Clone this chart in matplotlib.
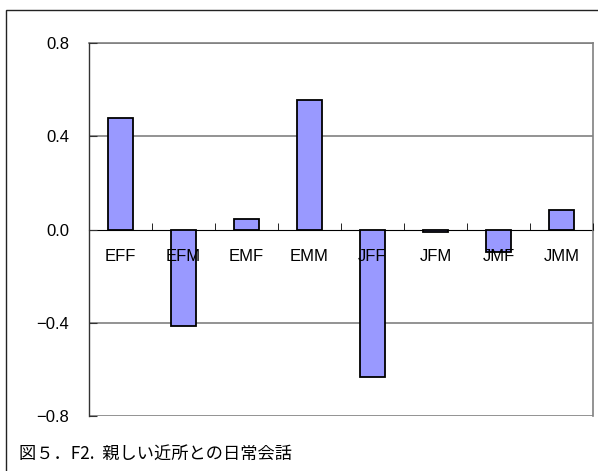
import matplotlib.pyplot as plt
from matplotlib.patches import Rectangle
from matplotlib.ticker import FixedLocator, FuncFormatter

plt.rcParams['font.family'] = ['Liberation Sans', 'Noto Sans CJK JP', 'DejaVu Sans']

# data
groups = ['EFF', 'EFM', 'EMF', 'EMM', 'JFF', 'JFM', 'JMF', 'JMM']
values = [0.479, -0.414, 0.043, 0.555, -0.632, -0.010, -0.095, 0.082]
yticks = [-0.8, -0.4, 0.0, 0.4, 0.8]
caption = '図５．F2.  親しい近所との日常会話'

fig = plt.figure(figsize=(5.98, 4.71), dpi=100)

# outer frame of the chart area
fig.patches.append(Rectangle((6 / 598, -0.1), 1.2, 0.1 + (471 - 10) / 471,
                             transform=fig.transFigure, fill=False,
                             edgecolor='#222222', linewidth=1.0))

ax = fig.add_axes([89 / 598, (471 - 416) / 471, (593 - 89) / 598, (416 - 43) / 471])

x = list(range(len(groups)))
ax.bar(x, values, width=0.39, color='#9999FF', edgecolor='black', linewidth=1.3, zorder=3)

ax.set_xlim(-0.5, len(groups) - 0.5)
ax.set_ylim(-0.8, 0.8)

# gridlines and the bottom frame line
for v in yticks:
    if v != 0.0:
        ax.axhline(v, color='#808080', linewidth=1.2, zorder=1)

# category axis sits at zero
ax.spines['bottom'].set_position(('data', 0))
ax.spines['bottom'].set_color('black')
ax.spines['bottom'].set_zorder(2)
for s in ['top', 'right']:
    ax.spines[s].set_color('#808080')
    ax.spines[s].set_linewidth(1.2)
ax.spines['left'].set_color('#333333')
ax.spines['left'].set_linewidth(1.0)
ax.spines['left'].set_zorder(4)

ax.set_xticks(x)
ax.set_xticklabels(groups, fontsize=12)
ax.xaxis.set_minor_locator(FixedLocator([i + 0.5 for i in x]))
ax.tick_params(axis='x', which='major', length=0, pad=14)
ax.tick_params(axis='x', which='minor', direction='in', length=5, color='black')
ax.xaxis.set_zorder(5)

ax.set_yticks(yticks)
ax.yaxis.set_major_formatter(FuncFormatter(lambda v, p: f'{v:.1f}'.replace('-', '\u2212')))
ax.tick_params(axis='y', direction='in', length=6, labelsize=12, pad=14.4, color='#333333')
ax.yaxis.set_zorder(5)

fig.text(19 / 598, 1 - 454 / 471, caption, fontsize=12.4, va='center', ha='left',
         family=['Noto Sans CJK JP'])

fig.savefig('out.png', dpi=100)
